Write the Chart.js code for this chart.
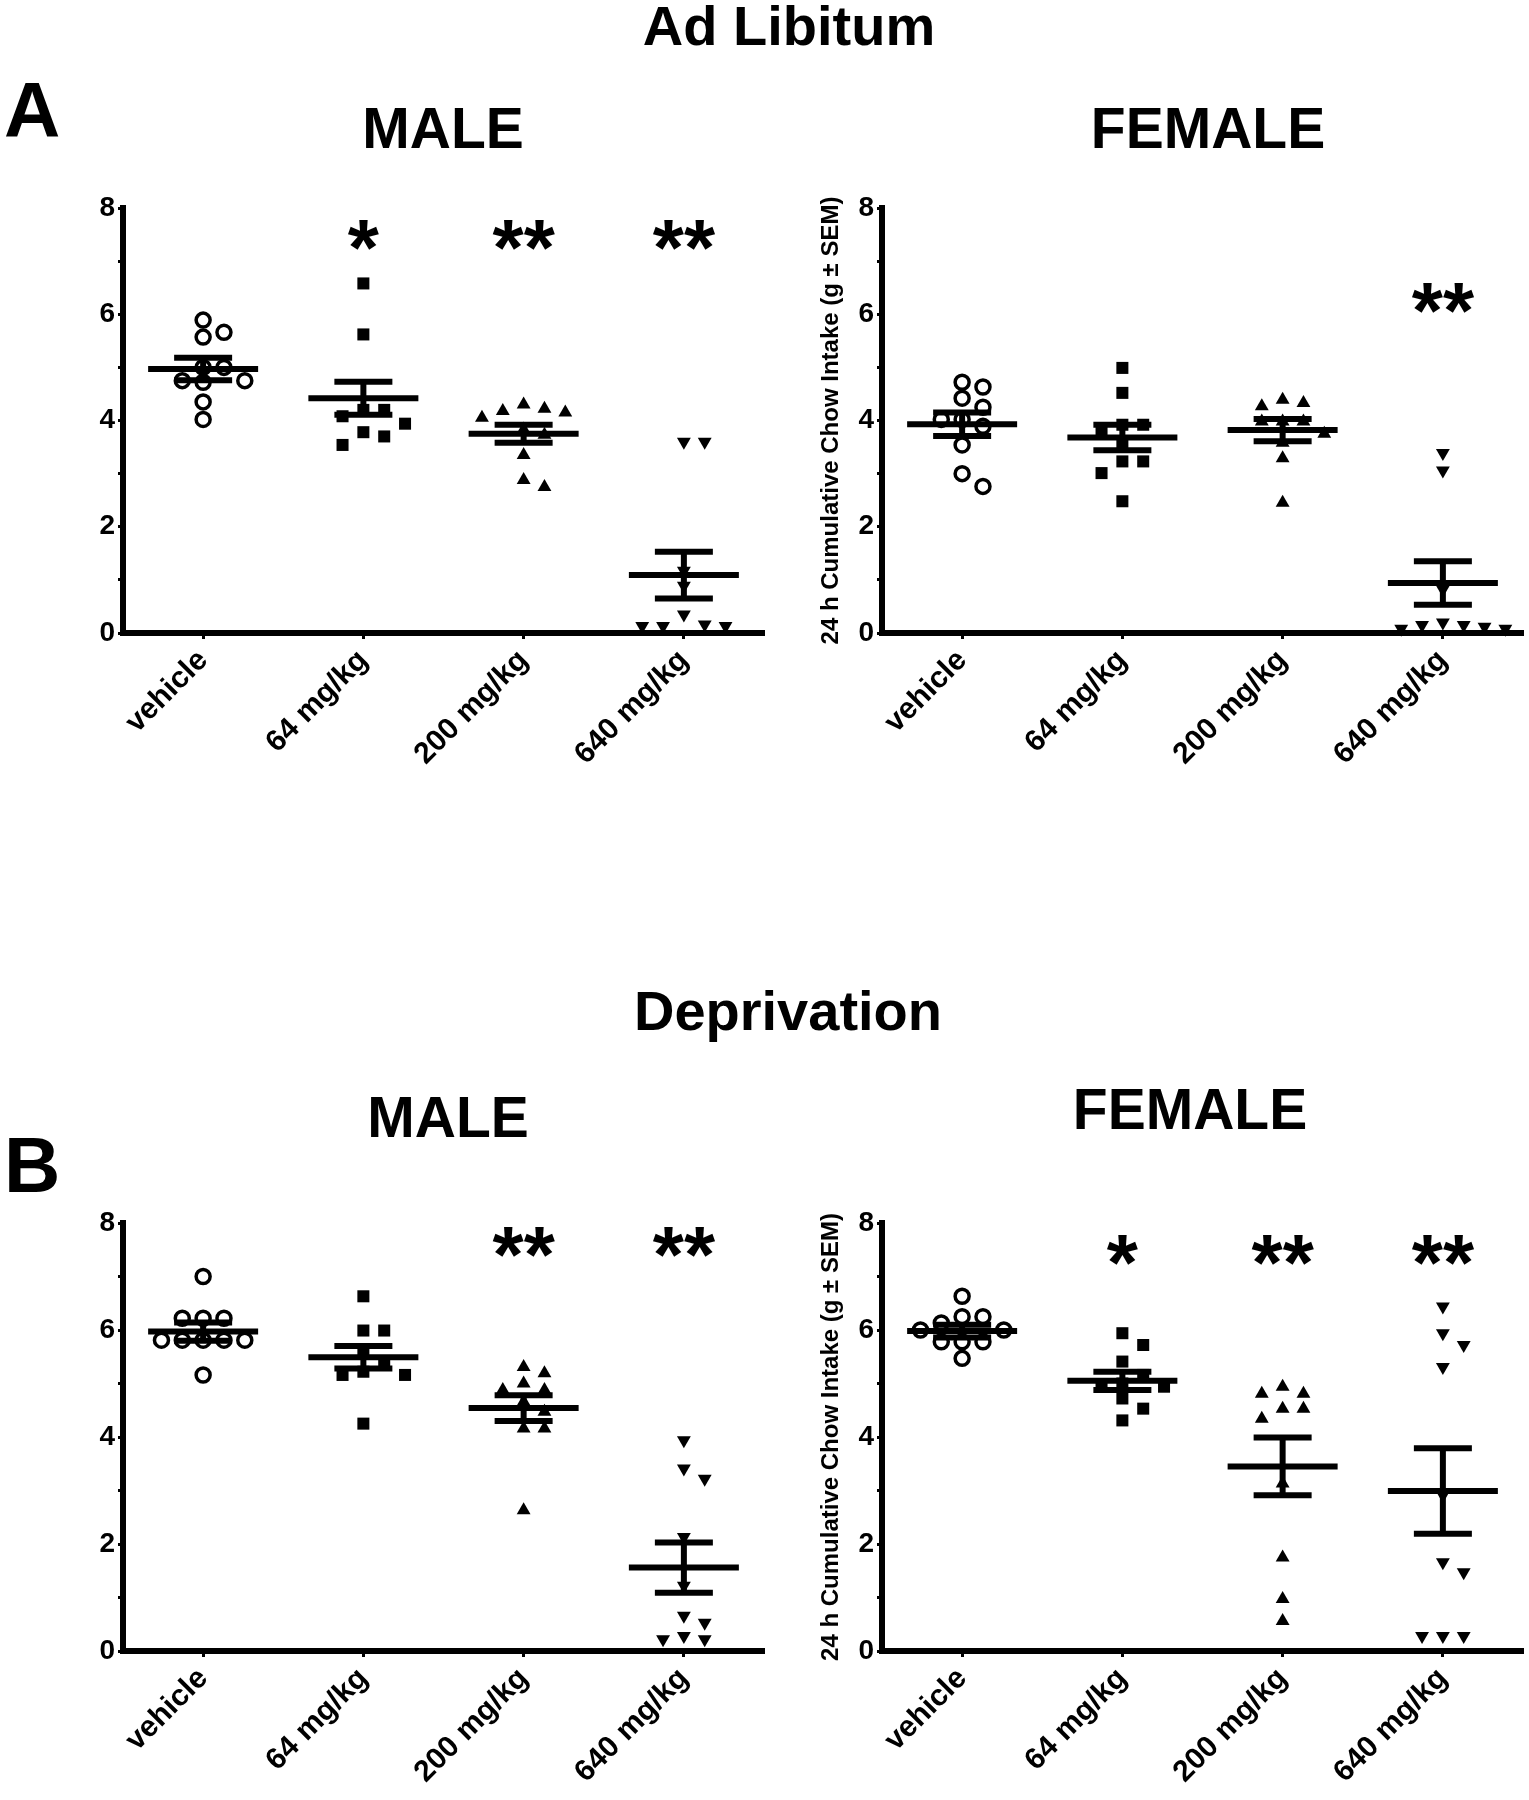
<!DOCTYPE html>
<html>
<head>
<meta charset="utf-8">
<title>Ad Libitum / Deprivation chow intake</title>
<script src="https://cdn.jsdelivr.net/npm/chart.js@4.4.0/dist/chart.umd.min.js"></script>
<style>
    body { margin: 0; background: #fff; }
    #page { position: relative; width: 1529px; height: 1800px; background: #fff; overflow: hidden; }
    .hd { position: absolute; font-family: "Liberation Sans", Arial, Helvetica, sans-serif; font-weight: bold; line-height: 1; color: #000; white-space: nowrap; }
    .ctr { width: 600px; text-align: center; }
    canvas { position: absolute; }
</style>
</head>
<body>
<div id="page">
    <div class="hd ctr" style="left:489px; top:-2px; font-size:56px;">Ad Libitum</div>
    <div class="hd" style="left:4px; top:71px; font-size:78px;">A</div>
    <div class="hd ctr" style="left:143px; top:100px; font-size:57px;">MALE</div>
    <div class="hd ctr" style="left:908px; top:100px; font-size:57px;">FEMALE</div>

    <div class="hd ctr" style="left:488px; top:983px; font-size:56px;">Deprivation</div>
    <div class="hd" style="left:4px; top:1126px; font-size:78px;">B</div>
    <div class="hd ctr" style="left:148px; top:1089px; font-size:57px;">MALE</div>
    <div class="hd ctr" style="left:890px; top:1081px; font-size:57px;">FEMALE</div>

    <canvas id="adLibMaleChart"></canvas>
    <canvas id="adLibFemaleChart"></canvas>
    <canvas id="depMaleChart"></canvas>
    <canvas id="depFemaleChart"></canvas>
</div>

<script>
const categories = ['vehicle', '64 mg/kg', '200 mg/kg', '640 mg/kg'];
const yTitle = '24 h Cumulative Chow Intake (g \u00b1 SEM)';

// Ad libitum - male
const adLibMale = [
    [5.89, 5.66, 5.57, 5.0, 5.0, 4.75, 4.72, 4.75, 4.35, 4.02],
    [6.58, 5.62, 4.2, 4.2, 4.08, 3.94, 3.78, 3.7, 3.54],
    [4.3, 4.22, 4.18, 4.15, 4.05, 3.83, 3.73, 3.35, 2.88, 2.75],
    [3.6, 3.6, 1.17, 0.89, 0.35, 0.16, 0.13, 0.13, 0.13]
];
const adLibMaleMean = [4.97, 4.42, 3.75, 1.09];
const adLibMaleSem = [0.21, 0.31, 0.17, 0.44];
const adLibMaleStars = ['', '*', '**', '**'];

// Ad libitum - female
const adLibFemale = [
    [4.72, 4.63, 4.42, 4.25, 4.02, 4.02, 3.89, 3.54, 3.0, 2.76],
    [4.99, 4.52, 3.92, 3.92, 3.8, 3.58, 3.23, 3.23, 3.01, 2.48],
    [4.39, 4.33, 4.27, 3.98, 3.98, 3.98, 3.75, 3.58, 3.29, 2.45],
    [3.39, 3.06, 0.82, 0.2, 0.15, 0.15, 0.12, 0.08, 0.08]
];
const adLibFemaleMean = [3.93, 3.68, 3.82, 0.94];
const adLibFemaleSem = [0.22, 0.24, 0.21, 0.41];
const adLibFemaleStars = ['', '', '', '**'];

// Deprivation - male
const depMale = [
    [7.0, 6.22, 6.22, 6.22, 5.81, 5.81, 5.81, 5.81, 5.81, 5.16],
    [6.63, 5.99, 5.99, 5.56, 5.38, 5.22, 5.16, 5.16, 4.25],
    [5.31, 5.19, 5.0, 4.88, 4.88, 4.66, 4.47, 4.16, 4.16, 2.63],
    [3.94, 3.41, 3.22, 2.13, 1.22, 0.66, 0.53, 0.28, 0.22, 0.22]
];
const depMaleMean = [5.97, 5.49, 4.54, 1.56];
const depMaleSem = [0.17, 0.21, 0.24, 0.47];
const depMaleStars = ['', '', '**', '**'];

// Deprivation - female
const depFemale = [
    [6.63, 6.25, 6.25, 6.13, 6.0, 6.0, 5.78, 5.78, 5.78, 5.47],
    [5.94, 5.72, 5.41, 5.16, 5.0, 4.94, 4.94, 4.72, 4.53, 4.31],
    [4.94, 4.81, 4.81, 4.53, 4.53, 4.34, 3.13, 1.75, 0.97, 0.56],
    [6.44, 5.94, 5.72, 5.31, 2.91, 1.66, 1.47, 0.28, 0.28, 0.28]
];
const depFemaleMean = [5.98, 5.05, 3.45, 2.99];
const depFemaleSem = [0.12, 0.17, 0.54, 0.80];
const depFemaleStars = ['', '*', '**', '**'];

const FONT = '"Liberation Sans", Arial, Helvetica, sans-serif';
const PLOT_W = 641, AXIS_W = 110, XLAB_H = 160, PAD_TOP = 22;
const STAR_SIZE = 80;

// one marker per dose group, like the prism original
const markers = [
    { pointStyle: 'circle', pointRadius: 7, pointBorderWidth: 3.5, pointBackgroundColor: 'rgba(0,0,0,0)', pointRotation: 0 },
    { pointStyle: 'rect', pointRadius: 8.5, pointBorderWidth: 0, pointBackgroundColor: '#000', pointRotation: 0 },
    { pointStyle: 'triangle', pointRadius: 8, pointBorderWidth: 0, pointBackgroundColor: '#000', pointRotation: 0 },
    { pointStyle: 'triangle', pointRadius: 8, pointBorderWidth: 0, pointBackgroundColor: '#000', pointRotation: 180 }
];

// spread points sideways so they don't sit on top of each other
function swarm(values, plotH) {
    const step = 0.13, pxX = PLOT_W / 4, pxY = plotH / 8;
    const placed = [];
    return values.map(function (v) {
        let off = 0;
        for (let s = 0; s < 40; s++) {
            off = s === 0 ? 0 : Math.ceil(s / 2) * step * (s % 2 ? 1 : -1);
            const hit = placed.some(p => Math.abs((p.x - off) * pxX) < 17 && Math.abs((p.y - v) * pxY) < 14);
            if (!hit) break;
        }
        placed.push({ x: off, y: v });
        return off;
    });
}

const starPlugin = {
    id: 'stars',
    afterDatasetsDraw(chart, args, opts) {
        const ctx = chart.ctx;
        const xs = chart.scales.x, ys = chart.scales.y;
        ctx.save();
        ctx.fillStyle = '#000';
        ctx.textAlign = 'center';
        ctx.textBaseline = 'alphabetic';
        ctx.font = 'bold ' + STAR_SIZE + 'px ' + FONT;
        opts.marks.forEach(function (m, i) {
            if (!m) return;
            ctx.fillText(m, xs.getPixelForValue(i), ys.getPixelForValue(opts.level) + 0.5 * STAR_SIZE);
        });
        ctx.restore();
    }
};

function drawPanel(id, axisX, plotTop, plotBottom, groups, means, sems, stars, starLevel, withTitle) {
    const canvas = document.getElementById(id);
    const plotH = plotBottom - plotTop;
    const W = AXIS_W + PLOT_W + 8, H = PAD_TOP + plotH + XLAB_H + 10;
    canvas.width = W;
    canvas.height = H;
    canvas.style.left = (axisX - AXIS_W) + 'px';
    canvas.style.top = (plotTop - PAD_TOP) + 'px';

    const datasets = [];
    datasets.push({
        label: 'mean',
        data: means.map((m, i) => ({ x: i, y: m })),
        pointStyle: 'line', pointRadius: 55, pointBorderWidth: 6, pointBorderColor: '#000',
        showLine: false, clip: false
    });
    const caps = [];
    means.forEach(function (m, i) {
        caps.push({ x: i, y: m + sems[i] });
        caps.push({ x: i, y: m - sems[i] });
    });
    datasets.push({
        label: 'sem caps',
        data: caps,
        pointStyle: 'line', pointRadius: 29, pointBorderWidth: 6, pointBorderColor: '#000',
        showLine: false, clip: false
    });
    const bars = [];
    means.forEach(function (m, i) {
        bars.push({ x: i, y: m - sems[i] });
        bars.push({ x: i, y: m + sems[i] });
        bars.push({ x: i, y: null });
    });
    datasets.push({
        label: 'sem',
        data: bars,
        showLine: true, spanGaps: false, borderColor: '#000', borderWidth: 6,
        pointRadius: 0, clip: false
    });
    groups.forEach(function (vals, g) {
        const offs = swarm(vals, plotH);
        datasets.push(Object.assign({
            label: categories[g],
            data: vals.map((v, k) => ({ x: g + offs[k], y: v })),
            pointBorderColor: '#000',
            showLine: false, clip: false
        }, markers[g]));
    });

    new Chart(canvas, {
        type: 'scatter',
        data: { datasets: datasets },
        plugins: [starPlugin],
        options: {
            responsive: false,
            animation: false,
            devicePixelRatio: 1,
            layout: { autoPadding: false, padding: { left: 0, top: PAD_TOP, right: 8, bottom: 10 } },
            plugins: {
                legend: { display: false },
                tooltip: { enabled: false },
                stars: { marks: stars, level: starLevel }
            },
            scales: {
                x: {
                    type: 'linear',
                    min: -0.5,
                    max: 3.5,
                    afterBuildTicks: s => { s.ticks = categories.map((c, i) => ({ value: i })); },
                    afterFit: s => { s.height = XLAB_H; },
                    border: { display: true, color: '#000', width: 6 },
                    grid: { display: true, drawOnChartArea: false, drawTicks: true, tickLength: 6, tickColor: '#000', tickWidth: 3 },
                    ticks: {
                        color: '#000',
                        minRotation: 45,
                        maxRotation: 45,
                        padding: 4,
                        font: { family: FONT, size: 30, weight: 'bold' },
                        callback: v => categories[v]
                    }
                },
                y: {
                    min: 0,
                    max: 8,
                    afterFit: s => { s.width = AXIS_W; },
                    border: { display: true, color: '#000', width: 6 },
                    grid: { display: true, drawOnChartArea: false, drawTicks: true, tickLength: 5, tickColor: '#000', tickWidth: 3 },
                    ticks: {
                        stepSize: 1,
                        color: '#000',
                        padding: 3,
                        font: { family: FONT, size: 28, weight: 'bold' },
                        callback: v => (v % 2 === 0 ? v : '')
                    },
                    title: {
                        display: withTitle,
                        text: yTitle,
                        color: '#000',
                        font: { family: FONT, size: 24, weight: 'bold' },
                        padding: { top: 45, bottom: 0 }
                    }
                }
            }
        }
    });
}

drawPanel('adLibMaleChart', 123, 208, 633, adLibMale, adLibMaleMean, adLibMaleSem, adLibMaleStars, 7.5, false);
drawPanel('adLibFemaleChart', 882, 208, 633, adLibFemale, adLibFemaleMean, adLibFemaleSem, adLibFemaleStars, 6.3, true);
drawPanel('depMaleChart', 123, 1223, 1651, depMale, depMaleMean, depMaleSem, depMaleStars, 7.65, false);
drawPanel('depFemaleChart', 882, 1223, 1651, depFemale, depFemaleMean, depFemaleSem, depFemaleStars, 7.5, true);
</script>
</body>
</html>
